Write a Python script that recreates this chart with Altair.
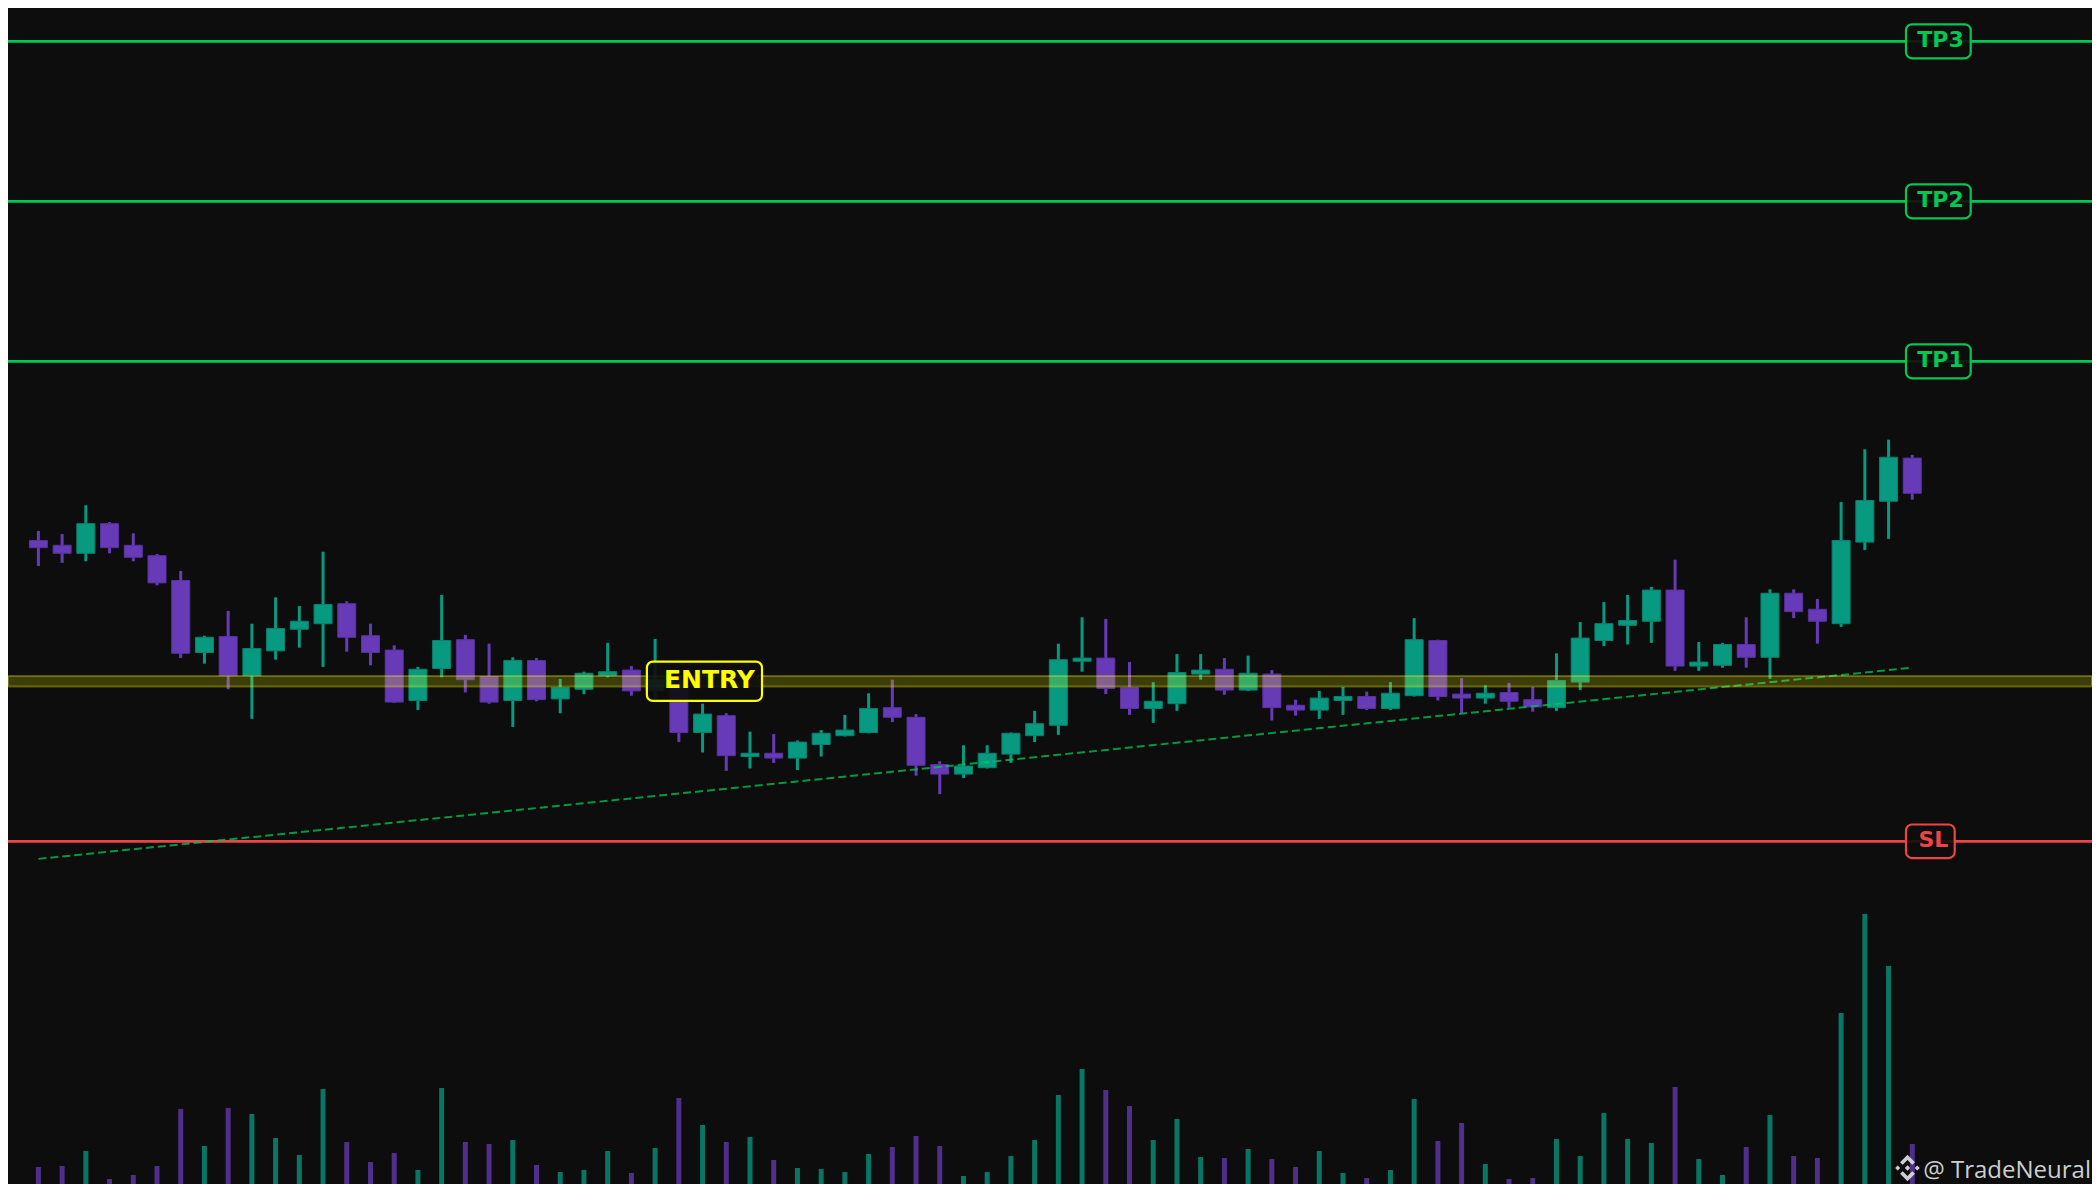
import altair as alt
import pandas as pd

# ---------------- data ----------------
opens = [101.76, 101.70, 101.60, 101.97, 101.70, 101.57, 101.26, 100.36, 100.56, 100.07,
         100.38, 100.65, 100.72, 100.97, 100.57, 100.39, 99.76, 100.16, 100.52, 100.06,
         99.76, 100.26, 99.78, 99.90, 100.07, 100.14, 99.88, 100.02, 99.36, 99.57,
         99.06, 99.10, 99.04, 99.21, 99.32, 99.36, 99.67, 99.55, 98.96, 98.84,
         98.92, 99.09, 99.32, 99.45, 100.25, 100.29, 99.92, 99.66, 99.72, 100.09,
         100.15, 99.89, 100.09, 99.70, 99.64, 99.76, 99.81, 99.66, 99.82, 100.51,
         99.84, 99.79, 99.86, 99.77, 99.67, 99.99, 100.51, 100.70, 100.75, 101.14,
         100.19, 100.20, 100.46, 100.30, 101.10, 100.90, 100.72, 101.74, 102.25, 102.79]
highs = [101.88, 101.84, 102.20, 101.99, 101.85, 101.59, 101.38, 100.57, 100.88, 100.72,
         101.05, 100.94, 101.62, 101.00, 100.72, 100.45, 100.18, 101.08, 100.58, 100.47,
         100.30, 100.29, 100.03, 100.12, 100.48, 100.19, 100.53, 100.07, 99.72, 99.60,
         99.37, 99.34, 99.26, 99.39, 99.58, 99.85, 100.02, 99.59, 99.00, 99.20,
         99.20, 99.36, 99.63, 100.47, 100.80, 100.78, 100.24, 99.99, 100.34, 100.34,
         100.29, 100.32, 100.14, 99.77, 99.88, 99.93, 99.87, 99.99, 100.79, 100.52,
         100.04, 99.95, 99.98, 99.93, 100.35, 100.74, 100.99, 101.08, 101.18, 101.52,
         100.49, 100.48, 100.80, 101.15, 101.15, 101.03, 102.24, 102.90, 103.02, 102.83]
lows = [101.44, 101.48, 101.50, 101.60, 101.50, 101.20, 100.29, 100.22, 99.90, 99.53,
        100.27, 100.42, 100.18, 100.37, 100.20, 99.73, 99.64, 100.05, 99.86, 99.72,
        99.43, 99.75, 99.60, 99.84, 100.05, 99.82, 99.78, 99.24, 99.11, 98.88,
        98.91, 98.98, 98.89, 99.06, 99.31, 99.35, 99.49, 98.82, 98.59, 98.79,
        98.91, 98.98, 99.24, 99.33, 100.12, 99.84, 99.58, 99.48, 99.63, 100.02,
        99.83, 99.88, 99.51, 99.57, 99.53, 99.58, 99.64, 99.64, 99.81, 99.76,
        99.60, 99.72, 99.67, 99.62, 99.63, 99.89, 100.44, 100.46, 100.48, 100.13,
        100.13, 100.17, 100.17, 100.03, 100.79, 100.47, 100.68, 101.64, 101.78, 102.27]
closes = [101.67, 101.60, 101.97, 101.67, 101.55, 101.23, 100.35, 100.55, 100.07, 100.41,
          100.66, 100.75, 100.96, 100.55, 100.36, 99.74, 100.15, 100.51, 100.02, 99.74,
          100.26, 99.77, 99.92, 100.10, 100.12, 99.88, 100.02, 99.36, 99.59, 99.07,
          99.10, 99.04, 99.24, 99.35, 99.39, 99.66, 99.55, 98.95, 98.84, 98.94,
          99.10, 99.35, 99.47, 100.27, 100.29, 99.91, 99.66, 99.75, 100.11, 100.14,
          99.89, 100.10, 99.67, 99.64, 99.79, 99.81, 99.66, 99.85, 100.52, 99.81,
          99.79, 99.85, 99.75, 99.68, 100.01, 100.54, 100.72, 100.76, 101.14, 100.19,
          100.24, 100.46, 100.30, 101.10, 100.87, 100.75, 101.76, 102.26, 102.80, 102.35]
volumes = [33, 34, 49, 21, 25, 34, 91, 54, 92, 86,
           62, 45, 111, 58, 38, 47, 30, 112, 58, 56,
           60, 35, 28, 30, 49, 27, 52, 102, 75, 58,
           63, 40, 32, 31, 28, 46, 53, 64, 54, 24,
           28, 44, 60, 105, 131, 110, 94, 60, 81, 43,
           42, 51, 41, 33, 49, 27, 22, 30, 101, 59,
           77, 36, 21, 22, 61, 44, 87, 61, 57, 113,
           41, 25, 53, 85, 44, 42, 187, 286, 234, 56]

entry_price = 100.0
entry_zone = [99.935, 100.065]
stop_loss = 98.0
target_names = ["TP1", "TP2", "TP3"]
target_prices = [104.0, 106.0, 108.0]
trend_index = [0, 79]
trend_price = [97.78, 100.17]
watermark = "@ TradeNeural"

# ---------------- style ----------------
BG = "#0d0d0d"
UP, DOWN = "#089981", "#673ab7"
UP_EDGE, DOWN_EDGE = "#07836e", "#5a32a3"
GREEN, RED, YELLOW = "#00c853", "#ef4444", "#ffff00"
W, H = 2084, 1176

xs = alt.Scale(domain=[-1.2816, 86.577], nice=False, zero=False, padding=0)
ys = alt.Scale(domain=[93.716, 108.416], nice=False, zero=False, padding=0)
vs = alt.Scale(domain=[16, 1192], nice=False, zero=False, padding=0)

candles = pd.DataFrame({
    "i": list(range(len(opens))),
    "open": opens, "high": highs, "low": lows, "close": closes, "volume": volumes,
})
candles["dir"] = ["up" if c >= o else "down" for o, c in zip(opens, closes)]

X = alt.X("i:Q", scale=xs, axis=None)
col = alt.Color("dir:N", scale=alt.Scale(domain=["up", "down"], range=[UP, DOWN]), legend=None)

base = alt.Chart(candles)
vol = base.mark_bar(size=5, opacity=0.75, clip=True).encode(
    x=X, y=alt.Y("volume:Q", scale=vs, axis=None), color=col)
wick = base.mark_rule(strokeWidth=3).encode(
    x=X, y=alt.Y("low:Q", scale=ys, axis=None), y2="high:Q", color=col)
body = base.mark_bar(size=18, strokeWidth=1).encode(
    x=X, y=alt.Y("open:Q", scale=ys, axis=None), y2="close:Q", color=col,
    stroke=alt.Stroke("dir:N", scale=alt.Scale(domain=["up", "down"], range=[UP_EDGE, DOWN_EDGE]), legend=None))

tp_df = pd.DataFrame({"name": target_names, "price": target_prices})
sl_df = pd.DataFrame({"name": ["SL"], "price": [stop_loss]})
en_df = pd.DataFrame({"name": ["ENTRY"], "price": [entry_price],
                      "lo": [entry_zone[0]], "hi": [entry_zone[1]]})
trend_df = pd.DataFrame({"i": trend_index, "price": trend_price})

tp_lines = alt.Chart(tp_df).mark_rule(color=GREEN, strokeWidth=2.7).encode(
    y=alt.Y("price:Q", scale=ys, axis=None))
sl_line = alt.Chart(sl_df).mark_rule(color=RED, strokeWidth=2.7).encode(
    y=alt.Y("price:Q", scale=ys, axis=None))

trend = alt.Chart(trend_df).mark_line(color=GREEN, strokeWidth=2, opacity=0.75,
                                      strokeDash=[8, 4]).encode(
    x=X, y=alt.Y("price:Q", scale=ys, axis=None))

band = alt.Chart(en_df).mark_rect(fill=YELLOW, fillOpacity=0.2, stroke=YELLOW,
                                  strokeOpacity=0.3, strokeWidth=2).encode(
    y=alt.Y("lo:Q", scale=ys, axis=None), y2="hi:Q")


def label(df, x0, x1, xt, half, color, size):
    box = alt.Chart(df).transform_calculate(
        x0=str(x0), x1=str(x1),
        y0=f"datum.price - {half}", y1=f"datum.price + {half}",
    ).mark_rect(fill=BG, fillOpacity=0.9, stroke=color, strokeWidth=2.2, cornerRadius=6).encode(
        x=alt.X("x0:Q", scale=xs, axis=None), x2="x1:Q",
        y=alt.Y("y0:Q", scale=ys, axis=None), y2="y1:Q")
    txt = alt.Chart(df).transform_calculate(tx=str(xt)).mark_text(
        font="DejaVu Sans", fontWeight="bold", fontSize=size, color=color,
        align="center", baseline="middle", dy=-1).encode(
        x=alt.X("tx:Q", scale=xs, axis=None),
        y=alt.Y("price:Q", scale=ys, axis=None), text="name:N")
    return [box, txt]


tp_lbl = label(tp_df, 78.735, 81.463, 80.19, 0.2125, GREEN, 22)
sl_lbl = label(sl_df, 78.735, 80.789, 79.89, 0.21, RED, 22)
en_lbl = label(en_df, 25.653, 30.506, 28.29, 0.2456, YELLOW, 25)

LOGO = ("M0,-1L0.56,-0.44L0.36,-0.24L0,-0.6L-0.36,-0.24L-0.56,-0.44Z"
        "M0,1L0.56,0.44L0.36,0.24L0,0.6L-0.36,0.24L-0.56,0.44Z"
        "M0,-0.2L0.2,0L0,0.2L-0.2,0Z"
        "M-0.74,-0.19L-0.55,0L-0.74,0.19L-0.93,0Z"
        "M0.74,-0.19L0.93,0L0.74,0.19L0.55,0Z")
wm_df = pd.DataFrame({"t": [watermark]})
logo = alt.Chart(wm_df).mark_point(shape=LOGO, filled=True, size=700, color="#d9d9d9",
                                   opacity=0.95, strokeWidth=0).encode(
    x=alt.value(1899.5), y=alt.value(1160))
wm = alt.Chart(wm_df).mark_text(font="Open Sans", fontSize=24, color="#d9d9d9", opacity=0.95,
                                align="right", baseline="alphabetic").encode(
    x=alt.value(2083), y=alt.value(1170), text="t:N")

chart = alt.layer(
    vol, tp_lines, sl_line, wick, body, trend, band,
    *tp_lbl, *sl_lbl, *en_lbl, logo, wm,
).resolve_scale(y="independent").properties(
    width=W, height=H, padding=0, autosize=alt.AutoSizeParams(type="none"),
).configure(background=BG).configure_view(stroke=None)

chart.save("out.html", embed_options={"renderer": "svg", "actions": False})
